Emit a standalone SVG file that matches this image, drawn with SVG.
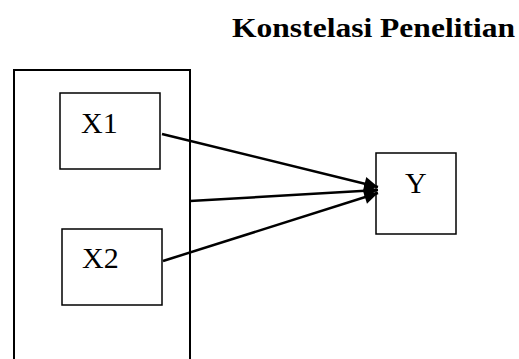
<svg xmlns="http://www.w3.org/2000/svg" width="519" height="359" viewBox="0 0 519 359">
<style>
.box{fill:none;stroke:#000;stroke-width:1.5}
.big{fill:none;stroke:#000;stroke-width:2}
.lbl{font-size:30px;fill:#000}
.title{font-size:27px;font-weight:bold;fill:#000}
.conn{fill:none;stroke:#000;stroke-width:2.5}
</style>
<defs>
<marker id="arr" viewBox="0 0 10 10" refX="10" refY="5" markerWidth="6.5" markerHeight="5.5" markerUnits="strokeWidth" orient="auto">
<path d="M0,0 L10,5 L0,10 z" fill="#000"/>
</marker>
</defs>
<rect width="519" height="359" fill="#fff"/>
<text class="title" font-family="Liberation Serif, DejaVu Serif, serif" x="232" y="37" textLength="283" lengthAdjust="spacingAndGlyphs">Konstelasi Penelitian</text>
<g id="group">
<rect class="big" x="14" y="70" width="176" height="300"/>
</g>
<g id="X1">
<rect class="box" x="60" y="93" width="100" height="76"/>
<text class="lbl" font-family="Liberation Serif, DejaVu Serif, serif" x="81" y="133">X1</text>
</g>
<g id="X2">
<rect class="box" x="62" y="229" width="100" height="76"/>
<text class="lbl" font-family="Liberation Serif, DejaVu Serif, serif" x="82" y="268">X2</text>
</g>
<g id="Y">
<rect class="box" x="376" y="153" width="80" height="81"/>
<text class="lbl" font-family="Liberation Serif, DejaVu Serif, serif" x="405" y="193">Y</text>
</g>
<g id="connectors">
<line class="conn" x1="162" y1="134" x2="378" y2="187" marker-end="url(#arr)"/>
<line class="conn" x1="190" y1="201" x2="378" y2="190" marker-end="url(#arr)"/>
<line class="conn" x1="163" y1="261" x2="378" y2="193" marker-end="url(#arr)"/>
</g>
</svg>
